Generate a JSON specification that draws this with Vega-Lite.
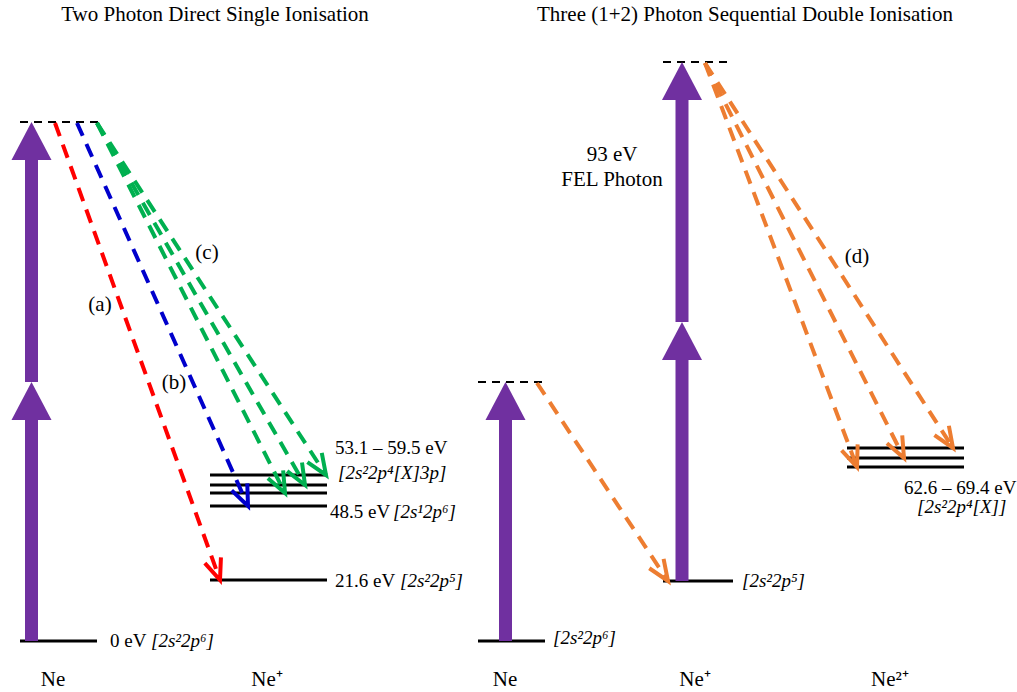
{
  "$schema": "https://vega.github.io/schema/vega-lite/v6.json",
  "width": 1017,
  "height": 692,
  "padding": 0,
  "autosize": {"type": "none"},
  "background": "white",
  "config": {"view": {"stroke": null}, "font": "Liberation Serif"},
  "datasets": {
    "levels": [
      {"x": 20, "x2": 97, "y": 0},
      {"x": 210, "x2": 327, "y": 61},
      {"x": 210, "x2": 327, "y": 135},
      {"x": 210, "x2": 327, "y": 148},
      {"x": 210, "x2": 327, "y": 156},
      {"x": 210, "x2": 327, "y": 166},
      {"x": 478, "x2": 545, "y": 0},
      {"x": 663, "x2": 733, "y": 60},
      {"x": 847, "x2": 964, "y": 174},
      {"x": 847, "x2": 964, "y": 183},
      {"x": 847, "x2": 964, "y": 193}
    ],
    "virtual": [
      {"x": 20, "x2": 100, "y": 519},
      {"x": 478, "x2": 545, "y": 259},
      {"x": 663, "x2": 727, "y": 579}
    ],
    "transitions": [
      {"step": "a", "x": 55, "y": 518, "x2": 220, "y2": 61},
      {"step": "b", "x": 77, "y": 518, "x2": 248, "y2": 135},
      {"step": "c", "x": 97, "y": 518, "x2": 285, "y2": 148},
      {"step": "c", "x": 97, "y": 518, "x2": 305, "y2": 156},
      {"step": "c", "x": 97, "y": 518, "x2": 326, "y2": 166},
      {"step": "d1", "x": 537, "y": 258, "x2": 668, "y2": 60},
      {"step": "d2", "x": 705, "y": 578, "x2": 857, "y2": 174},
      {"step": "d2", "x": 705, "y": 578, "x2": 904, "y2": 183},
      {"step": "d2", "x": 705, "y": 578, "x2": 953, "y2": 193}
    ],
    "photons": [
      {"x": 31.5, "y": 0, "yb": 222, "tip": 259},
      {"x": 31.5, "y": 259, "yb": 482, "tip": 519},
      {"x": 505.5, "y": 0, "yb": 222, "tip": 259},
      {"x": 682, "y": 60, "yb": 282, "tip": 319},
      {"x": 682, "y": 319, "yb": 542, "tip": 579}
    ],
    "titles": [
      {"x": 215, "y": 626, "text": "Two Photon Direct Single Ionisation"},
      {"x": 745, "y": 626, "text": "Three (1+2) Photon Sequential Double Ionisation"}
    ],
    "notes": [
      {"x": 100, "y": 336, "text": "(a)"},
      {"x": 174, "y": 258, "text": "(b)"},
      {"x": 207, "y": 388, "text": "(c)"},
      {"x": 857, "y": 384, "text": "(d)"},
      {"x": 612, "y": 486, "text": "93 eV"},
      {"x": 612, "y": 461, "text": "FEL Photon"},
      {"x": 53, "y": -39, "text": "Ne"},
      {"x": 267, "y": -39, "text": "Ne⁺"},
      {"x": 505, "y": -39, "text": "Ne"},
      {"x": 695, "y": -39, "text": "Ne⁺"},
      {"x": 890, "y": -39, "text": "Ne²⁺"}
    ],
    "energies": [
      {"x": 110, "y": 0, "text": "0 eV"},
      {"x": 335, "y": 60, "text": "21.6 eV"},
      {"x": 330, "y": 129, "text": "48.5 eV"},
      {"x": 335, "y": 193, "text": "53.1 – 59.5 eV"},
      {"x": 904, "y": 153, "text": "62.6 – 69.4 eV"}
    ],
    "configs": [
      {"x": 151, "y": 0, "text": "[2s²2p⁶]"},
      {"x": 400, "y": 60, "text": "[2s²2p⁵]"},
      {"x": 393, "y": 129, "text": "[2s¹2p⁶]"},
      {"x": 338, "y": 168, "text": "[2s²2p⁴[X]3p]"},
      {"x": 917, "y": 134, "text": "[2s²2p⁴[X]]"},
      {"x": 553, "y": 3, "text": "[2s²2p⁶]"},
      {"x": 742, "y": 60, "text": "[2s²2p⁵]"}
    ]
  },
  "encoding": {
    "x": {"field": "x", "type": "quantitative", "scale": {"domain": [0, 1017], "nice": false, "zero": false}, "axis": null},
    "y": {"field": "y", "type": "quantitative", "scale": {"domain": [-51, 641], "nice": false, "zero": false}, "axis": null}
  },
  "layer": [
    {
      "data": {"name": "levels"},
      "mark": {"type": "rule", "strokeWidth": 3, "color": "black", "strokeCap": "butt"},
      "encoding": {"x2": {"field": "x2"}}
    },
    {
      "data": {"name": "virtual"},
      "mark": {"type": "rule", "strokeWidth": 2, "color": "black", "strokeDash": [8, 6], "strokeCap": "butt"},
      "encoding": {"x2": {"field": "x2"}}
    },
    {
      "data": {"name": "transitions"},
      "mark": {"type": "rule", "strokeWidth": 4, "strokeDash": [14, 9], "strokeCap": "butt"},
      "encoding": {
        "x2": {"field": "x2"},
        "y2": {"field": "y2"},
        "color": {"field": "step", "type": "nominal", "scale": {"domain": ["a", "b", "c", "d1", "d2"], "range": ["#FF0000", "#0000CC", "#00B050", "#ED7D31", "#ED7D31"]}, "legend": null}
      }
    },
    {
      "data": {"name": "transitions"},
      "transform": [{"calculate": "atan2(datum.x2 - datum.x, datum.y2 - datum.y) * 180 / PI", "as": "angle"}],
      "mark": {"type": "point", "shape": "M-0.45,1.1L0,0L0.45,1.1", "filled": false, "size": 1450, "strokeWidth": 4, "opacity": 1},
      "encoding": {
        "x": {"field": "x2", "type": "quantitative", "scale": {"domain": [0, 1017], "nice": false, "zero": false}, "axis": null},
        "y": {"field": "y2", "type": "quantitative", "scale": {"domain": [-51, 641], "nice": false, "zero": false}, "axis": null},
        "angle": {"field": "angle", "type": "quantitative", "scale": null},
        "stroke": {"field": "step", "type": "nominal", "scale": {"domain": ["a", "b", "c", "d1", "d2"], "range": ["#FF0000", "#0000CC", "#00B050", "#ED7D31", "#ED7D31"]}, "legend": null}
      }
    },
    {
      "data": {"name": "photons"},
      "mark": {"type": "rule", "strokeWidth": 13, "color": "#7030A0", "strokeCap": "butt"},
      "encoding": {"y2": {"field": "yb"}}
    },
    {
      "data": {"name": "photons"},
      "mark": {"type": "point", "shape": "M0,0L1,1.9L-1,1.9Z", "filled": true, "size": 1600, "color": "#7030A0", "opacity": 1, "strokeWidth": 0},
      "encoding": {
        "y": {"field": "tip", "type": "quantitative", "scale": {"domain": [-51, 641], "nice": false, "zero": false}, "axis": null}
      }
    },
    {
      "data": {"name": "titles"},
      "mark": {"type": "text", "fontSize": 21, "align": "center", "baseline": "middle", "color": "black"},
      "encoding": {"text": {"field": "text"}}
    },
    {
      "data": {"name": "notes"},
      "mark": {"type": "text", "fontSize": 21, "align": "center", "baseline": "middle", "color": "black"},
      "encoding": {"text": {"field": "text"}}
    },
    {
      "data": {"name": "energies"},
      "mark": {"type": "text", "fontSize": 19, "align": "left", "baseline": "middle", "color": "black"},
      "encoding": {"text": {"field": "text"}}
    },
    {
      "data": {"name": "configs"},
      "mark": {"type": "text", "fontSize": 19, "align": "left", "baseline": "middle", "fontStyle": "italic", "color": "black"},
      "encoding": {"text": {"field": "text"}}
    }
  ]
}
